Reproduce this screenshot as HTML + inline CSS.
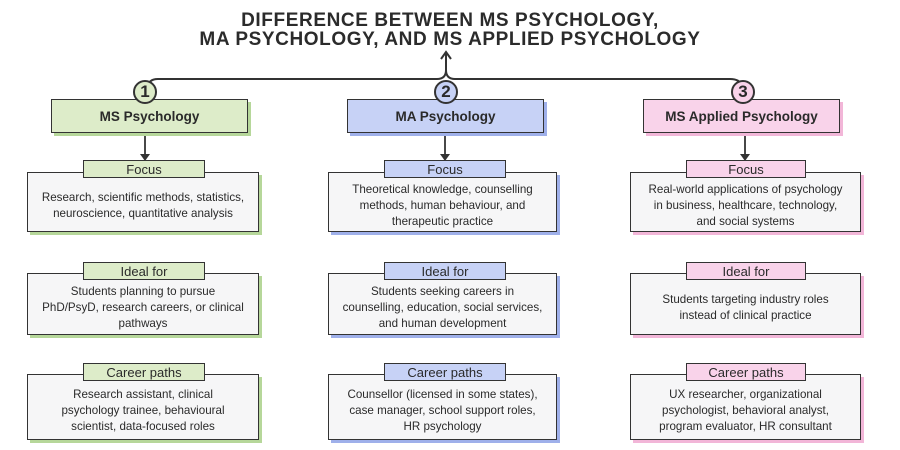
<!DOCTYPE html>
<html><head><meta charset="utf-8"><style>
body{margin:0;width:900px;height:450px;background:#fff;position:relative;overflow:hidden;font-family:"Liberation Sans",sans-serif;color:#2a2a2a}
.t{position:absolute;left:0;width:900px;text-align:center;font-weight:bold;font-size:19px;letter-spacing:0.6px;color:#2b2b2b;line-height:19px}
.h{position:absolute;height:34px;border:1.5px solid #333;box-sizing:border-box;font-weight:bold;font-size:13.5px;display:flex;align-items:center;justify-content:center}
.c{position:absolute;width:24px;height:24px;border:2.5px solid #333;border-radius:50%;box-sizing:border-box;font-weight:900;font-size:17px;display:flex;align-items:center;justify-content:center}
.b{position:absolute;background:#f6f6f7;border:1.5px solid #333;box-sizing:border-box;font-size:11.6px;line-height:16px;text-align:center;display:flex;align-items:center;justify-content:center;padding:8px 4px 0;white-space:nowrap}
.g{background:#ddecc9}.bl{background:#c7d2f6}.p{background:#f9d3ea}
.sg{box-shadow:3px 3px 0 #b6d79a}.sb{box-shadow:3px 3px 0 #9fb0ea}.sp{box-shadow:3px 3px 0 #f2b6d8}
.tag{position:absolute;height:18px;border:1.5px solid #333;box-sizing:border-box;font-size:13px;display:flex;align-items:center;justify-content:center;z-index:2}
</style></head><body>
<div class="t" style="top:11px">DIFFERENCE BETWEEN MS PSYCHOLOGY,</div>
<div class="t" style="top:30px">MA PSYCHOLOGY, AND MS APPLIED PSYCHOLOGY</div>
<svg width="900" height="450" style="position:absolute;left:0;top:0">
<g fill="none" stroke="#333" stroke-width="2">
<path d="M148 88 Q148 79 158 79 L437 79 Q446 79 446 70 L446 54"/>
<path d="M446 70 Q446 79 455 79 L730 79 Q740 79 742 86"/>
<path d="M441 59 L446 52 L451 59"/>
</g>
<g stroke="#333" stroke-width="1.8">
<line x1="145" y1="134" x2="145" y2="156"/><line x1="445" y1="134" x2="445" y2="156"/><line x1="745" y1="134" x2="745" y2="156"/>
</g>
<g fill="#333"><path d="M140 154 L150 154 L145 161Z"/><path d="M440 154 L450 154 L445 161Z"/><path d="M740 154 L750 154 L745 161Z"/></g>
</svg>
<div class="h g sg" style="left:51px;top:99px;width:197px">MS Psychology</div>
<div class="h bl sb" style="left:347px;top:99px;width:197px">MA Psychology</div>
<div class="h p sp" style="left:643px;top:99px;width:197px">MS Applied Psychology</div>
<div class="c g" style="left:133px;top:80px">1</div>
<div class="c bl" style="left:434px;top:80px">2</div>
<div class="c p" style="left:731px;top:80px">3</div>

<div class="tag g" style="left:83px;top:160px;width:122px">Focus</div>
<div class="b sg" style="left:27px;top:172px;width:232px;height:60px">Research, scientific methods, statistics,<br>neuroscience, quantitative analysis</div>
<div class="tag g" style="left:83px;top:262px;width:122px">Ideal for</div>
<div class="b sg" style="left:27px;top:273px;width:232px;height:62px">Students planning to pursue<br>PhD/PsyD, research careers, or clinical<br>pathways</div>
<div class="tag g" style="left:83px;top:363px;width:122px">Career paths</div>
<div class="b sg" style="left:27px;top:374px;width:232px;height:66px">Research assistant, clinical<br>psychology trainee, behavioural<br>scientist, data-focused roles</div>

<div class="tag bl" style="left:384px;top:160px;width:122px">Focus</div>
<div class="b sb" style="left:328px;top:172px;width:229px;height:60px">Theoretical knowledge, counselling<br>methods, human behaviour, and<br>therapeutic practice</div>
<div class="tag bl" style="left:384px;top:262px;width:122px">Ideal for</div>
<div class="b sb" style="left:328px;top:273px;width:229px;height:62px">Students seeking careers in<br>counselling, education, social services,<br>and human development</div>
<div class="tag bl" style="left:384px;top:363px;width:122px">Career paths</div>
<div class="b sb" style="left:328px;top:374px;width:229px;height:66px">Counsellor (licensed in some states),<br>case manager, school support roles,<br>HR psychology</div>

<div class="tag p" style="left:686px;top:160px;width:120px">Focus</div>
<div class="b sp" style="left:630px;top:172px;width:231px;height:60px">Real-world applications of psychology<br>in business, healthcare, technology,<br>and social systems</div>
<div class="tag p" style="left:686px;top:262px;width:120px">Ideal for</div>
<div class="b sp" style="left:630px;top:273px;width:231px;height:62px">Students targeting industry roles<br>instead of clinical practice</div>
<div class="tag p" style="left:686px;top:363px;width:120px">Career paths</div>
<div class="b sp" style="left:630px;top:374px;width:231px;height:66px">UX researcher, organizational<br>psychologist, behavioral analyst,<br>program evaluator, HR consultant</div>
</body></html>
